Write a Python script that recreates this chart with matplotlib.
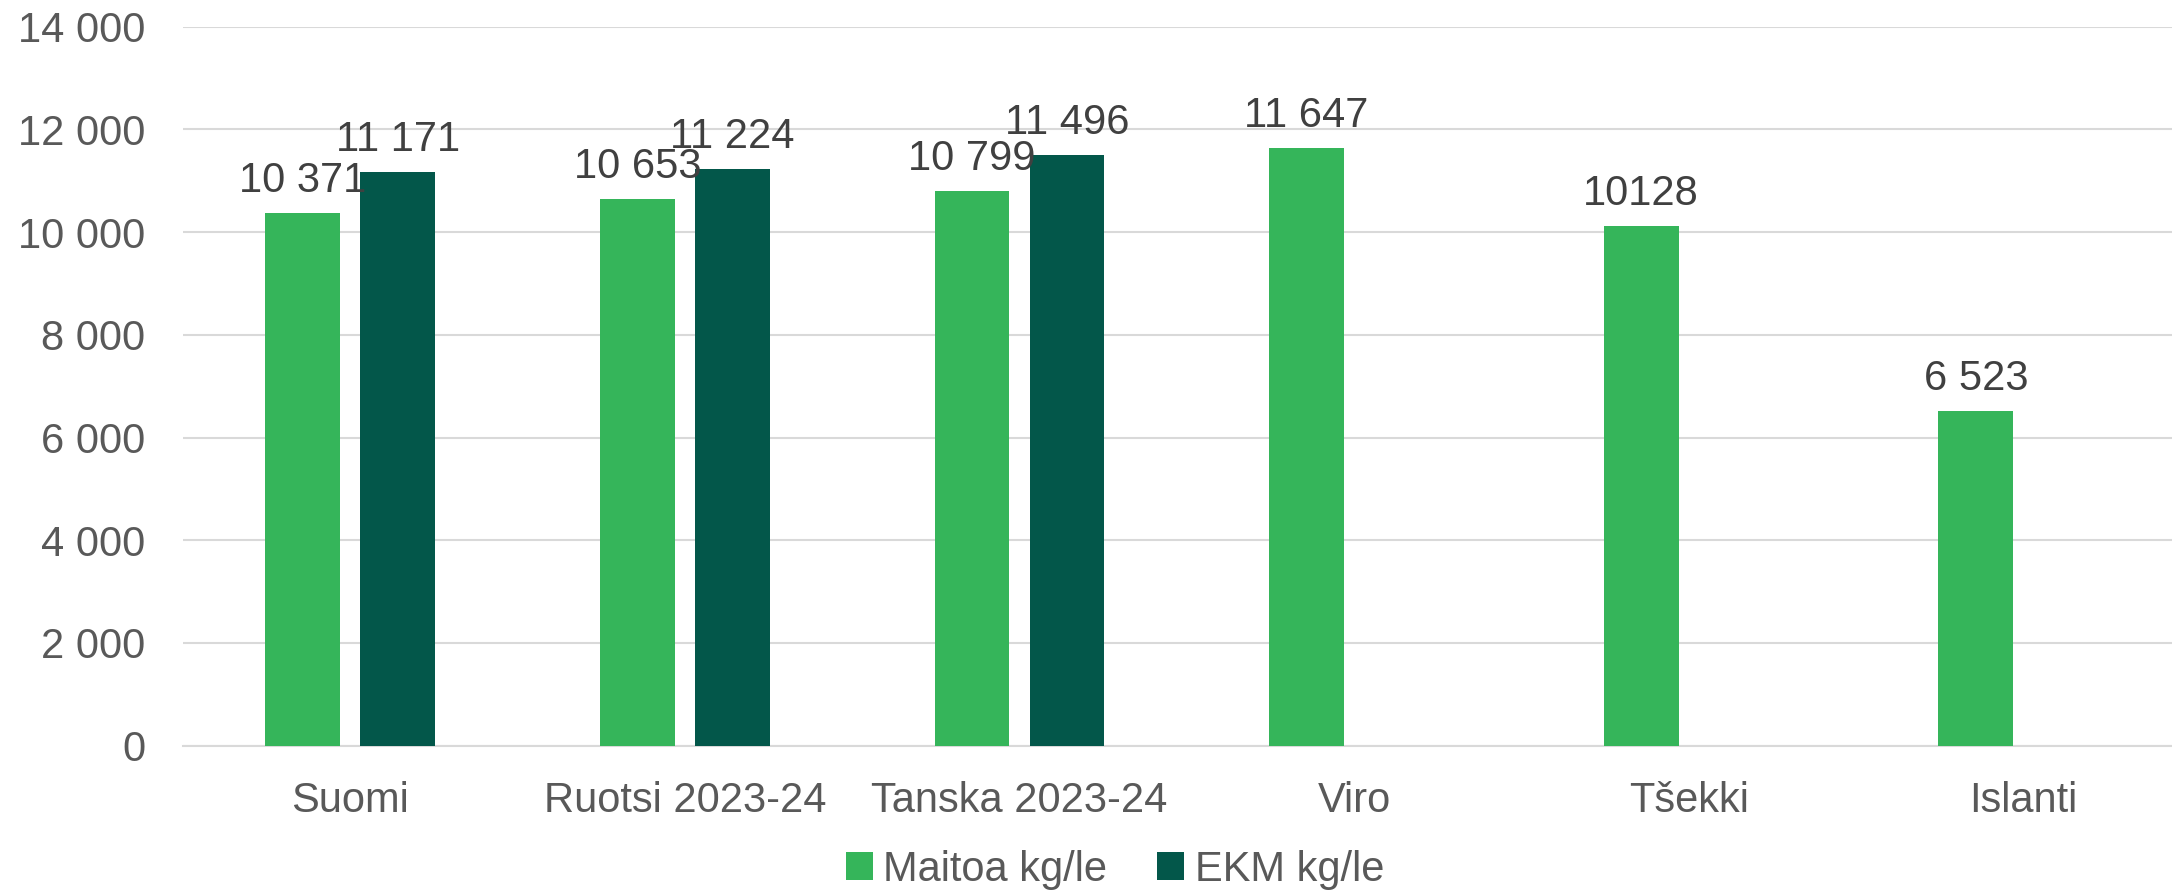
import numpy as np
import matplotlib.pyplot as plt

maat = ['Suomi', 'Ruotsi 2023-24', 'Tanska 2023-24', 'Viro', 'Tšekki', 'Islanti']
maitoa = [10371, 10653, 10799, 11647, 10128, 6523]
ekm = [11171, 11224, 11496, np.nan, np.nan, np.nan]
maitoa_labels = ['10 371', '10 653', '10 799', '11 647', '10128', '6 523']
ekm_labels = ['11 171', '11 224', '11 496', '', '', '']

plt.rcParams['font.family'] = ['Liberation Sans', 'DejaVu Sans']

vihrea = '#35B55A'
tumma = '#03574A'

# akselin alue pikseleinä (oikea reuna menee hieman kuvan yli)
vasen, ala, yla = 183, 745.7, 26.7
leveys_px = 6 * 334.6
fig = plt.figure(figsize=(21.72, 8.9), dpi=100)
ax = fig.add_axes([vasen / 2172, 1 - ala / 890, leveys_px / 2172, (ala - yla) / 890])

x = np.arange(len(maat))
leveys = 0.224
siirto = 0.142

b1 = ax.bar(x - siirto, maitoa, leveys, color=vihrea, label='Maitoa kg/le', zorder=3)
b2 = ax.bar(x + siirto, ekm, leveys, color=tumma, label='EKM kg/le', zorder=3)

for palkit, tekstit in [(b1, maitoa_labels), (b2, ekm_labels)]:
    for palkki, teksti in zip(palkit, tekstit):
        if not teksti:
            continue
        ax.annotate(teksti, (palkki.get_x() + palkki.get_width() / 2, palkki.get_height()),
                    xytext=(0, 15), textcoords='offset points', ha='center', va='baseline',
                    fontsize=30, color='#404040', zorder=4)

ax.set_ylim(0, 14000)
ax.set_xlim(-0.5, 5.5)
ax.set_yticks(range(0, 14001, 2000))
ax.set_yticklabels([f'{v:,}'.replace(',', ' ') for v in range(0, 14001, 2000)])
ax.set_xticks(x)
ax.set_xticklabels(maat)
ax.tick_params(axis='both', length=0, labelsize=30, labelcolor='#595959')
ax.tick_params(axis='y', pad=27)
ax.tick_params(axis='x', pad=25.5)

ax.grid(axis='y', color='#D9D9D9', linewidth=1.5, zorder=0)
for s in ['top', 'right', 'left']:
    ax.spines[s].set_visible(False)
ax.spines['bottom'].set_color('#D9D9D9')
ax.spines['bottom'].set_linewidth(1.5)

fig.legend(handles=[b1, b2], loc='center', bbox_to_anchor=(1115 / 2172, 1 - 870 / 890),
           ncol=2, frameon=False, fontsize=30, labelcolor='#595959',
           handlelength=0.65, handleheight=0.65, handletextpad=0.25, columnspacing=1.2)

fig.savefig('out.png', dpi=100)
